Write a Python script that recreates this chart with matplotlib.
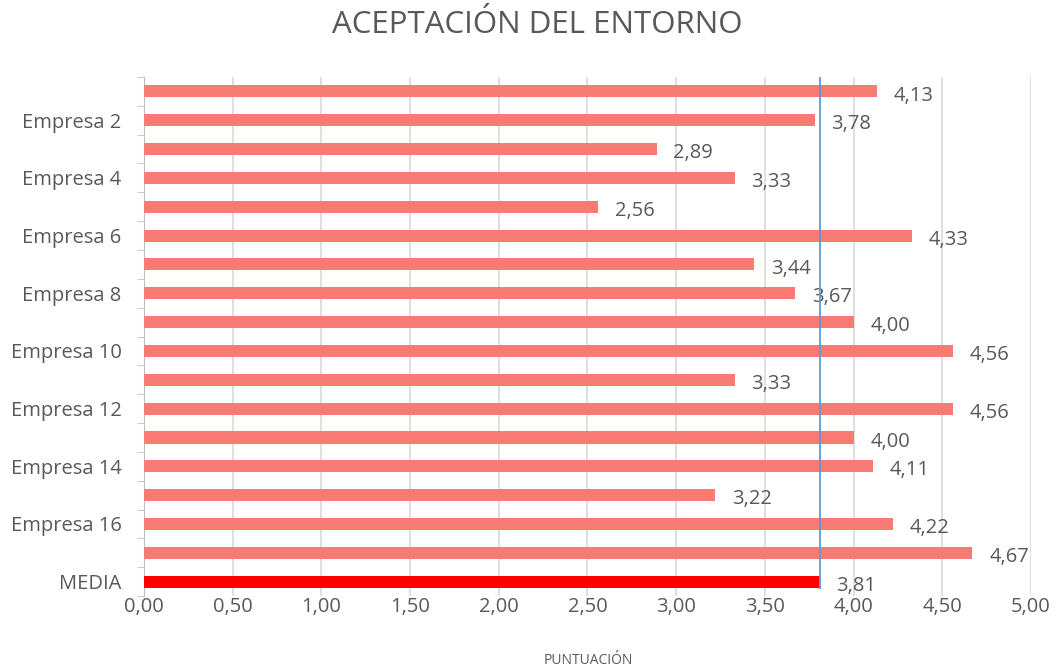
import matplotlib
matplotlib.use("Agg")
import matplotlib.pyplot as plt
import numpy as np

categories = [f"Empresa {i}" for i in range(1, 18)] + ["MEDIA"]
values = [4.13, 3.78, 2.89, 3.33, 2.56, 4.33, 3.44, 3.67, 4.00, 4.56,
          3.33, 4.56, 4.00, 4.11, 3.22, 4.22, 4.67, 3.81]
mean_value = 3.81
xticks = [0, 0.5, 1, 1.5, 2, 2.5, 3, 3.5, 4, 4.5, 5]

plt.rcParams['font.family'] = ['Open Sans', 'DejaVu Sans']
txt = '#595959'

fig = plt.figure(figsize=(10.58, 6.69), dpi=100)
ax = fig.add_axes([0.136, 0.109, 0.8385, 0.776])

n = len(categories)
y = np.arange(n)
colors = ['#F77B72'] * (n - 1) + ['#FF0000']
ax.barh(y, values, height=0.42, color=colors, zorder=3)
ax.set_ylim(n - 0.5, -0.5)
ax.set_xlim(0, 5)

ax.set_xticks(xticks)
ax.set_xticklabels([f"{t:.2f}".replace('.', ',') for t in xticks], fontsize=14.5, color=txt)
ax.set_yticks(y)
ax.set_yticklabels([c if (i % 2 == 1 or c == "MEDIA") else "" for i, c in enumerate(categories)],
                   fontsize=14.5, color=txt)
ax.tick_params(axis='y', length=0, pad=16)
ax.tick_params(axis='x', length=0, pad=1)
# minor ticks between categories on y
ax.set_yticks(np.arange(-0.5, n, 1), minor=True)
ax.tick_params(axis='y', which='minor', length=5, color='#BFBFBF', direction='out')

ax.grid(axis='x', color='#D9D9D9', linewidth=1.2, zorder=0)
for s in ['top', 'right', 'bottom']:
    ax.spines[s].set_visible(False)
ax.spines['left'].set_color('#BFBFBF')

for yi, v in zip(y, values):
    ax.annotate(f"{v:.2f}".replace('.', ','), (v, yi), xytext=(12, -3),
                textcoords='offset points', ha='left', va='center',
                fontsize=14.5, color=txt, zorder=4)

ax.plot([mean_value, mean_value], [-0.5, n - 1 + 0.21], color='#5B9BD5', linewidth=1.3, zorder=5)

fig.text(0.508, 0.962, "ACEPTACIÓN DEL ENTORNO", ha='center', va='center', fontsize=22.5, color=txt)
fig.text(0.556, 0.012, "PUNTUACIÓN", ha='center', va='center', fontsize=10, color=txt)

fig.savefig("out.png", dpi=100)
